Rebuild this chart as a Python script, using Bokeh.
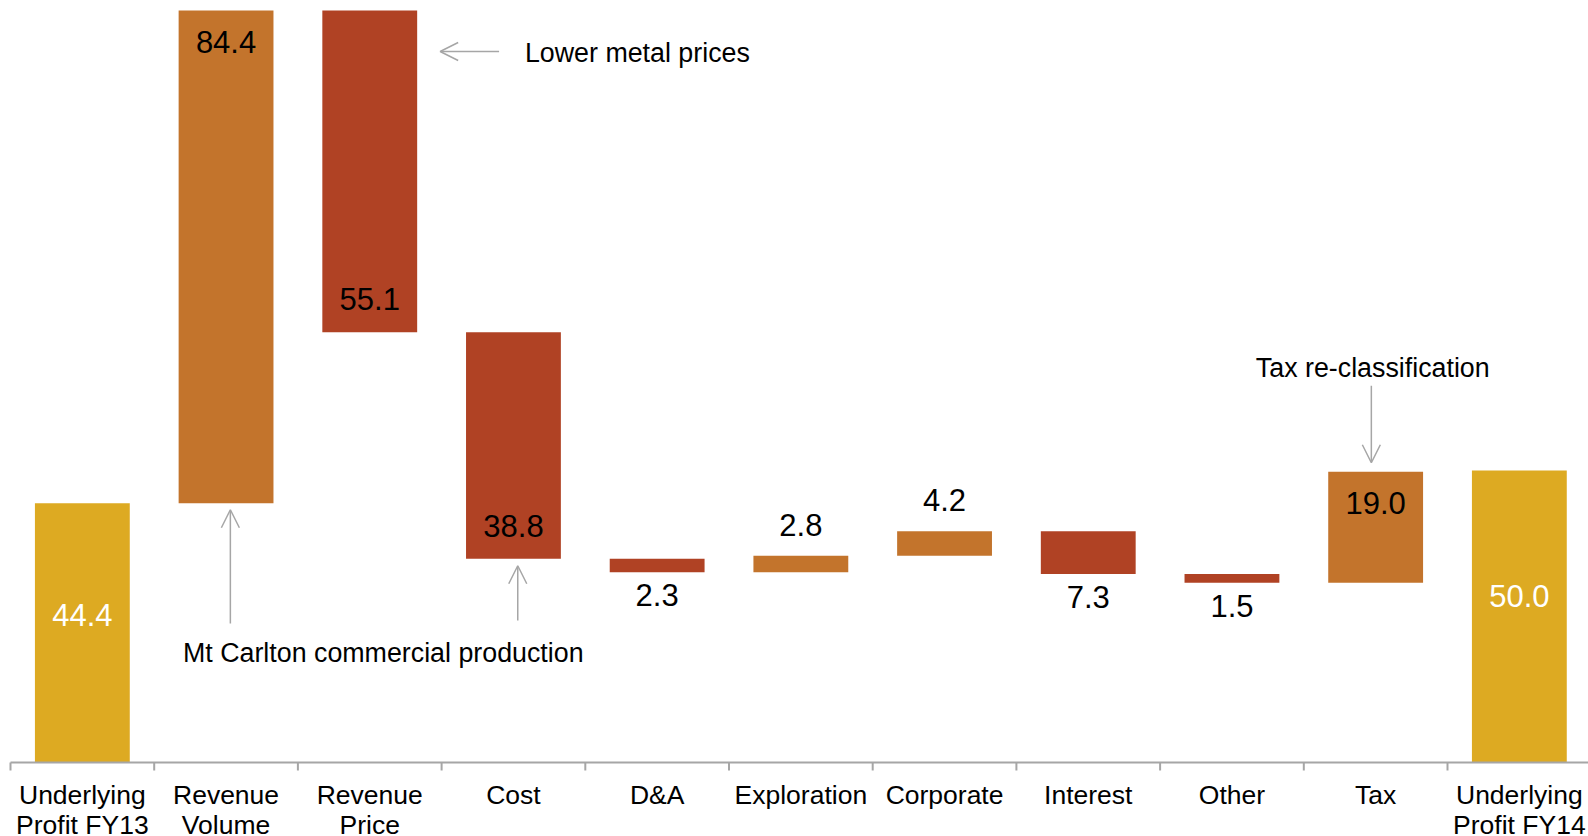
from bokeh.plotting import figure
from bokeh.models import ColumnDataSource, Range1d, Arrow, OpenHead, Label
from bokeh.core.properties import value
from bokeh.embed import file_html
from bokeh.resources import INLINE

# ---- data ----
categories = ["Underlying\nProfit FY13", "Revenue\nVolume", "Revenue\nPrice", "Cost", "D&A",
              "Exploration", "Corporate", "Interest", "Other", "Tax", "Underlying\nProfit FY14"]
start_total = 44.4
changes = [84.4, -55.1, -38.8, -2.3, 2.8, 4.2, -7.3, -1.5, 19.0]
end_total = 50.0

# ---- styling ----
GOLD, ORANGE, RED = "#DDAA22", "#C3742C", "#B04224"
GREY = "#A6A6A6"
FONT_NAME = "Liberation Sans"
FONT = value(FONT_NAME)

# ---- waterfall geometry ----
xs = [i + 0.5 for i in range(len(categories))]
bottoms, tops, colors, kinds = [0.0], [start_total], [GOLD], ["total"]
run = start_total
for c in changes:
    bottoms.append(min(run, run + c))
    tops.append(max(run, run + c))
    colors.append(ORANGE if c > 0 else RED)
    kinds.append("up" if c > 0 else "down")
    run += c
bottoms.append(0.0)
tops.append(end_total)
colors.append(GOLD)
kinds.append("total")
values = [start_total] + [abs(c) for c in changes] + [end_total]

W, H = 1588, 836
cat_px = 143.7
left_pad = 10
base_px = 762
top_pad = 10
ymax = max(tops)
k = (base_px - top_pad) / ymax  # px per unit

p = figure(width=W, height=H,
           x_range=Range1d(-left_pad / cat_px, (W - left_pad) / cat_px),
           y_range=Range1d(-(H - base_px) / k, ymax + top_pad / k),
           output_backend="svg", toolbar_location=None, min_border=0,
           x_axis_type=None, y_axis_type=None, outline_line_color=None)
p.grid.visible = False

src = ColumnDataSource(dict(x=xs, bottom=bottoms, top=tops, color=colors))
p.vbar(x="x", width=0.66, bottom="bottom", top="top", fill_color="color",
       line_color=None, source=src)

# baseline axis and ticks
n = len(categories)
p.segment(x0=[0], y0=[0], x1=[n], y1=[0], line_color=GREY, line_width=2)
bounds = list(range(n + 1))
p.segment(x0=bounds, y0=[0] * len(bounds), x1=bounds, y1=[-8 / k] * len(bounds),
          line_color=GREY, line_width=2)

# category labels
p.text(x=xs, y=[0] * n, text=categories, y_offset=17, text_align="center",
       text_baseline="top", text_font=FONT, text_font_size="26.5px",
       text_line_height=1.0, text_color="black")

# value labels
ly, loff, lcol = [], [], []
for b, t, kd in zip(bottoms, tops, kinds):
    h_px = (t - b) * k
    if kd == "total":
        ly.append(t * 0.57); loff.append(0); lcol.append("white")
    elif h_px > 60:
        if kd == "up":
            ly.append(t); loff.append(31)
        else:
            ly.append(b); loff.append(-33)
        lcol.append("black")
    else:
        if kd == "up":
            ly.append(t); loff.append(-31)
        else:
            ly.append(b); loff.append(23)
        lcol.append("black")
lsrc = ColumnDataSource(dict(x=xs, y=ly, off=loff, col=lcol,
                             txt=[f"{v:.1f}" for v in values]))
p.text(x="x", y="y", y_offset="off", text="txt", text_color="col", source=lsrc,
       text_align="center", text_baseline="middle", text_font=FONT,
       text_font_size="31px")

# ---- annotations ----
def arrow(x0, y0, x1, y1):
    p.add_layout(Arrow(end=OpenHead(size=18, line_color=GREY, line_width=1.5),
                       x_start=x0, y_start=y0, x_end=x1, y_end=y1,
                       line_color=GREY, line_width=1.5))

def note(x, y, text, align, y_offset=0):
    p.add_layout(Label(x=x, y=y, y_offset=y_offset, text=text, text_font=FONT_NAME,
                       text_font_size="26.8px", text_baseline="middle",
                       text_align=align, text_color="black"))

# Lower metal prices (Revenue Price bar)
rp_right = xs[2] + 0.33
ay = tops[2] - 41 / k
arrow(rp_right + 0.57, ay, rp_right + 0.16, ay)
note(rp_right + 0.75, ay, "Lower metal prices", "left", -1)

# Mt Carlton commercial production (Revenue Volume and Cost)
arrow(xs[1] + 0.03, (762 - 623) / k, xs[1] + 0.03, bottoms[1] - 6.5 / k)
arrow(xs[3] + 0.03, (762 - 620) / k, xs[3] + 0.03, bottoms[3] - 7 / k)
note(xs[1] - 0.3, (762 - 652) / k, "Mt Carlton commercial production", "left")

# Tax re-classification
arrow(xs[9] - 0.03, tops[9] + 86 / k, xs[9] - 0.03, tops[9] + 9 / k)
note(xs[9] - 0.02, tops[9] + 104 / k, "Tax re-classification", "center")

open("out.html", "w").write(file_html(p, INLINE))
